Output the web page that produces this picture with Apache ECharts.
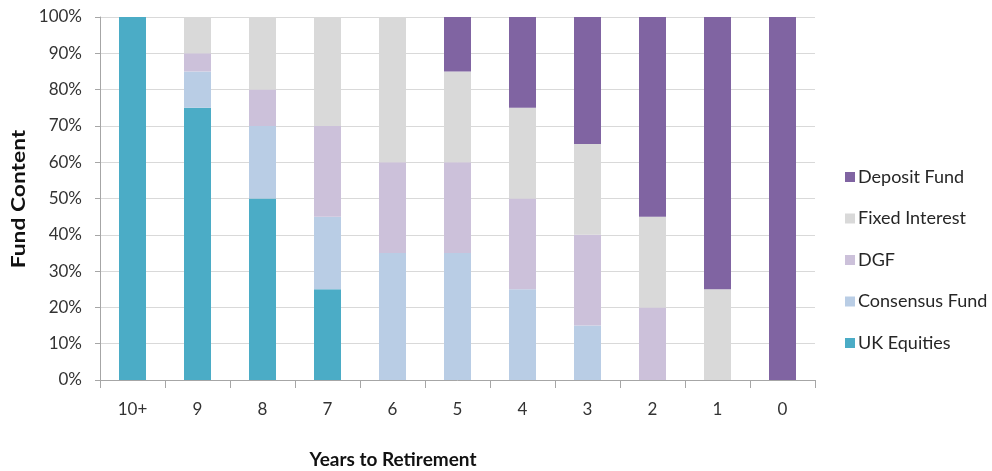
<!DOCTYPE html>
<html>
<head>
<meta charset="utf-8">
<script src="https://cdn.jsdelivr.net/npm/echarts@6/dist/echarts.min.js"></script>
<style>
html,body{margin:0;padding:0;background:#fff;}
#chart{width:992px;height:471px;}
</style>
</head>
<body>
<div id="chart"></div>
<script>
const categories = ['10+', '9', '8', '7', '6', '5', '4', '3', '2', '1', '0'];
const ukEquities    = [100, 75, 50, 25, 0, 0, 0, 0, 0, 0, 0];
const consensusFund = [0, 10, 20, 20, 35, 35, 25, 15, 0, 0, 0];
const dgf           = [0, 5, 10, 25, 25, 25, 25, 25, 20, 0, 0];
const fixedInterest = [0, 10, 20, 30, 40, 25, 25, 25, 25, 25, 0];
const depositFund   = [0, 0, 0, 0, 0, 15, 25, 35, 55, 75, 100];
const yTicks = [0, 10, 20, 30, 40, 50, 60, 70, 80, 90, 100];

const FONT = 'Lato';
const seriesDefs = [
  {name: 'UK Equities', data: ukEquities, color: '#4BACC6'},
  {name: 'Consensus Fund', data: consensusFund, color: '#B9CDE5'},
  {name: 'DGF', data: dgf, color: '#CCC1DA'},
  {name: 'Fixed Interest', data: fixedInterest, color: '#D9D9D9'},
  {name: 'Deposit Fund', data: depositFund, color: '#8064A2'}
];

const chart = echarts.init(document.getElementById('chart'), null, {renderer: 'canvas'});
chart.setOption({
  animation: false,
  backgroundColor: '#fff',
  grid: {left: 100, right: 177, top: 17, bottom: 91, containLabel: false},
  legend: {
    orient: 'vertical',
    left: 840,
    top: 163,
    itemWidth: 10,
    itemHeight: 10,
    itemGap: 23.5,
    icon: 'rect',
    data: ['Deposit Fund', 'Fixed Interest', 'DGF', 'Consensus Fund', 'UK Equities'],
    textStyle: {fontFamily: FONT, fontSize: 18, color: '#262626', padding: [0, 0, 0, -2]}
  },
  xAxis: {
    type: 'category',
    data: categories,
    axisLine: {lineStyle: {color: '#A6A6A6'}},
    axisTick: {show: true, length: 8, lineStyle: {color: '#A6A6A6'}},
    axisLabel: {fontFamily: FONT, fontSize: 17, color: '#333', margin: 21}
  },
  yAxis: {
    type: 'value',
    min: 0,
    max: 100,
    interval: 10,
    axisLine: {show: true, lineStyle: {color: '#A6A6A6'}},
    axisTick: {show: true, length: 5, lineStyle: {color: '#A6A6A6'}},
    axisLabel: {fontFamily: FONT, fontSize: 17, color: '#333', margin: 18,
      formatter: v => (yTicks.indexOf(v) >= 0 ? v + '%' : '')},
    splitLine: {lineStyle: {color: '#D9D9D9'}}
  },
  graphic: [
    {type: 'text', x: 19, y: 199, rotation: Math.PI / 2, scaleX: 1.2,
      style: {text: 'Fund Content', font: 'bold 19px ' + FONT, fill: '#111', textAlign: 'center', textVerticalAlign: 'middle'}},
    {type: 'text', x: 393, y: 460,
      style: {text: 'Years to Retirement', font: 'bold 19px ' + FONT, fill: '#111', textAlign: 'center', textVerticalAlign: 'middle'}}
  ],
  series: seriesDefs.map(s => ({
    name: s.name,
    type: 'bar',
    stack: 'total',
    barWidth: 27,
    data: s.data,
    itemStyle: {color: s.color},
    emphasis: {disabled: true}
  }))
});
</script>
</body>
</html>
